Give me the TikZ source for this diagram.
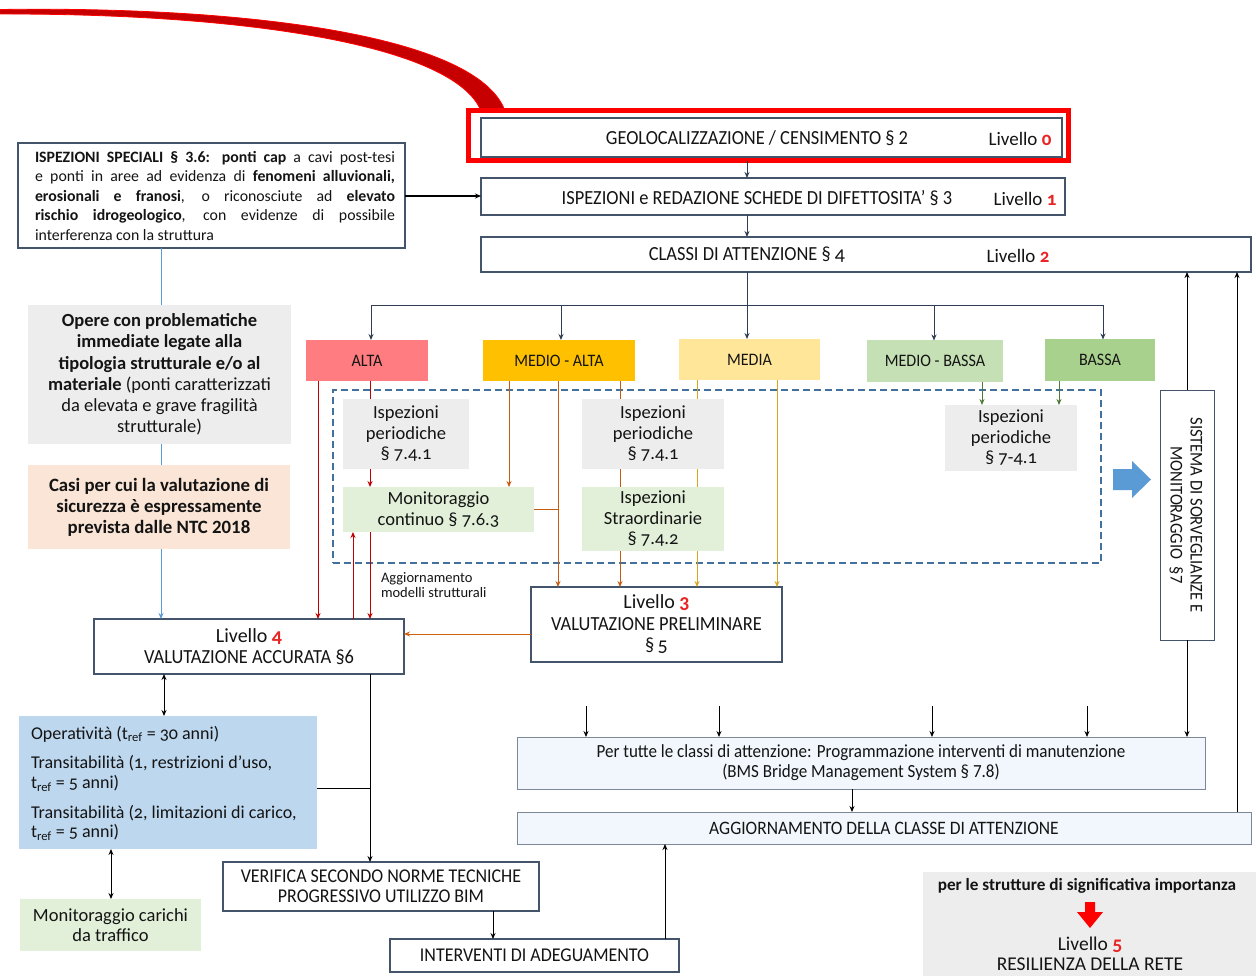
\documentclass[tikz,border=0pt]{standalone}
\usepackage{fontspec}
\setmainfont{Carlito}
\newfontfamily\cond[FakeStretch=0.92]{Carlito}
\newfontfamily\osf[Numbers=OldStyle]{Carlito}
\usetikzlibrary{arrows.meta}

\definecolor{bordc}{HTML}{44546A}
\definecolor{txt}{HTML}{141414}
\definecolor{altac}{HTML}{FF7C80}
\definecolor{malc}{HTML}{FFC000}
\definecolor{medc}{HTML}{FFE699}
\definecolor{mbc}{HTML}{C5E0B4}
\definecolor{bc}{HTML}{A9D18E}
\definecolor{grayf}{HTML}{EDEDED}
\definecolor{greenf}{HTML}{E2F0D9}
\definecolor{peachf}{HTML}{FBE5D6}
\definecolor{bluef}{HTML}{BDD7EE}
\definecolor{lbluef}{HTML}{F1F7FC}
\definecolor{dred}{HTML}{C00000}
\definecolor{brn}{HTML}{C55A11}
\definecolor{gld}{HTML}{D9A520}
\definecolor{dgrn}{HTML}{4E7A35}
\definecolor{slate}{HTML}{2F3E52}
\definecolor{dashc}{HTML}{41719C}
\definecolor{bluear}{HTML}{5B9BD5}
\definecolor{redc}{HTML}{FF0000}
\definecolor{lvl}{HTML}{E82424}

\newcommand{\lv}[1]{{\color{lvl}\bfseries\osf #1}}
\newcommand{\tref}{t\textsubscript{ref}}

\tikzset{
  every node/.style={inner sep=0pt, outer sep=0pt, text=txt},
  bx/.style={draw=bordc, line width=1.4pt, fill=white},
  lbx/.style={draw=bordc!70, line width=0.8pt, fill=lbluef},
  flat/.style={draw=none, fill=#1},
  cnd/.style={font=\cond\fontsize{20}{22}\selectfont},
  clab/.style={font=\cond\fontsize{17.5}{19}\selectfont},
  lvlab/.style={font=\fontsize{19}{21}\selectfont},
  small/.style={font=\osf\fontsize{18.5}{20.5}\selectfont, align=center},
  tip/.style={-{Stealth[length=6pt,width=5pt]}},
  tline/.style={draw=slate, line width=0.9pt},
  tarr/.style={tline, tip},
  rl/.style={draw=dred, line width=0.9pt},
  rarr/.style={rl, tip},
  bl2/.style={draw=brn, line width=0.9pt},
  barr/.style={bl2, tip},
  gl/.style={draw=gld, line width=0.9pt},
  garr/.style={gl, tip},
  grarr/.style={draw=dgrn, line width=0.9pt, tip},
  oarr/.style={draw=brn!80!orange, line width=0.9pt, tip},
  bline/.style={draw=bluear, line width=0.9pt},
  kl/.style={draw=black, line width=0.9pt},
  karr/.style={kl, tip},
  darr/.style={kl, {Stealth[length=6pt,width=5pt]}-{Stealth[length=6pt,width=5pt]}},
}

\begin{document}
\begin{tikzpicture}[x=1pt, y=-1pt]
\useasboundingbox[fill=white] (0,0) rectangle (1256,976);

% guide coordinates for connector columns and rows
\foreach \v in {111,161,164,318,353,370,493,509,558,586,620,665,697,719,747,777,852,932,982,1059,1087,1237}
  \coordinate (k\v) at (\v,0);
\foreach \v in {196,634,788}
  \coordinate (r\v) at (0,\v);

% red pointer from the upper left
\filldraw[fill=dred!90!red, draw=redc, line width=0.8pt]
  (0,9.5) .. controls (250,6) and (478,36) .. (505,111)
  -- (481,111) .. controls (455,46) and (250,13.5) .. (0,14) -- cycle;

% main chain
\node[bx, minimum width=581pt, minimum height=39pt] (geo) at (771.5,137.5) {};
\node[draw=redc, line width=5pt, minimum width=600pt, minimum height=50pt] (geoframe) at (768,136) {};
\node[cnd] at (757,138) {GEOLOCALIZZAZIONE / CENSIMENTO § 2};
\node[lvlab] at (1020,138.5) {Livello \lv{0}};

\node[bx, minimum width=584pt, minimum height=37pt] (isp) at (773,196.5) {};
\node[cnd] at (757,198) {ISPEZIONI e REDAZIONE SCHEDE DI DIFETTOSITA’ § 3};
\node[lvlab] at (1025,198.5) {Livello \lv{1}};

\node[bx, minimum width=770pt, minimum height=35pt] (classi) at (866,254.5) {};
\node[cnd] at (747,255) {CLASSI DI ATTENZIONE § \osf 4};
\node[lvlab] at (1018,256) {Livello \lv{2}};

% special inspections
\node[bx, minimum width=387pt, minimum height=105pt] (spec) at (211.5,195.5) {};
\node[font=\fontsize{15.8}{19.5}\selectfont, align=left] at (215,196) {%
\makebox[360pt][s]{\textbf{ISPEZIONI SPECIALI § 3.6: ponti cap} a cavi post-tesi}\\
\makebox[360pt][s]{e ponti in aree ad evidenza di \textbf{fenomeni alluvionali,}}\\
\makebox[360pt][s]{\textbf{erosionali e franosi}, o riconosciute ad \textbf{elevato}}\\
\makebox[360pt][s]{\textbf{rischio idrogeologico}, con evidenze di possibile}\\
\makebox[360pt][l]{interferenza con la struttura}};

\node[flat=grayf, minimum width=263pt, minimum height=139pt, font=\fontsize{18.5}{21.2}\selectfont, align=center] (opere) at (159.5,374.5) {%
\textbf{Opere con problematiche}\\ \textbf{immediate legate alla}\\ \textbf{tipologia strutturale e/o al}\\
\textbf{materiale} (ponti caratterizzati\\ da elevata e grave fragilità\\ strutturale)};

\node[flat=peachf, minimum width=262pt, minimum height=84pt, font=\fontsize{18.8}{21}\selectfont\bfseries, align=center] (casi) at (159,507) {%
Casi per cui la valutazione di\\ sicurezza è espressamente\\ prevista dalle NTC 2018};

% attention classes
\node[flat=altac, minimum width=122pt, minimum height=41pt, clab] (alta) at (367,360.5) {ALTA};
\node[flat=malc, minimum width=152pt, minimum height=41pt, clab] (medalta) at (559,360.5) {MEDIO - ALTA};
\node[flat=medc, minimum width=141pt, minimum height=41pt, clab] (media) at (749.5,359.5) {MEDIA};
\node[flat=mbc, minimum width=136pt, minimum height=41pt, clab] (medbassa) at (935,361) {MEDIO - BASSA};
\node[flat=bc, minimum width=110pt, minimum height=41pt, clab] (bassa) at (1100,360) {BASSA};

% surveillance area
\node[draw=dashc, dashed, dash pattern=on 7pt off 4pt, line width=1.3pt, minimum width=768pt, minimum height=173pt] (zone) at (717,476.5) {};
\node[flat=grayf, minimum width=126pt, minimum height=70pt, small] (ip1) at (406,434) {Ispezioni\\ periodiche\\ § 7.4.1};
\node[flat=greenf, minimum width=191pt, minimum height=45pt, small] (mon) at (438.5,509.5) {Monitoraggio\\ continuo § 7.6.3};
\node[flat=grayf, minimum width=142pt, minimum height=70pt, small] (ip2) at (653,434) {Ispezioni\\ periodiche\\ § 7.4.1};
\node[flat=greenf, minimum width=142pt, minimum height=64pt, small] (str) at (653,519) {Ispezioni\\ Straordinarie\\ § 7.4.2};
\node[flat=grayf, minimum width=132pt, minimum height=66pt, small] (ip3) at (1011,438) {Ispezioni\\ periodiche\\ § 7-4.1};

\fill[bluear] (1113,469) -- (1132,469) -- (1132,461) -- (1151,479.5) -- (1132,498) -- (1132,490) -- (1113,490) -- cycle;

\node[draw=bordc, line width=0.8pt, fill=white, minimum width=54pt, minimum height=250pt] (sist) at (1187,515) {};
\node[rotate=-90, align=center, font=\cond\fontsize{18}{20}\selectfont] at (1186,515) {SISTEMA DI SORVEGLIANZE E\\ MONITORAGGIO \ §7};

% evaluation levels
\node[bx, minimum width=251pt, minimum height=75pt, align=center, font=\cond\fontsize{20}{21.5}\selectfont] (liv3) at (656.5,624.5) {%
{\fontsize{20}{21.5}\selectfont\addfontfeatures{FakeStretch=1.0}Livello \lv{3}}\\ VALUTAZIONE PRELIMINARE\\ §\,\osf 5};
\node[bx, minimum width=310pt, minimum height=55pt, align=center, font=\cond\fontsize{20}{21.5}\selectfont] (liv4) at (249,646.5) {%
{\fontsize{20}{21.5}\selectfont\addfontfeatures{FakeStretch=1.0}Livello \lv{4}}\\ VALUTAZIONE ACCURATA §6};

\node[align=left, font=\fontsize{14.5}{15}\selectfont, anchor=north west] (aggl) at (381,573) {Aggiornamento\\ modelli strutturali};

\node[flat=bluef, minimum width=298pt, minimum height=133pt] (blue) at (168,782.5) {};
\node[anchor=west, font=\osf\fontsize{18}{19.5}\selectfont, align=left] at (31,734) {Operatività (\tref{} = 30 anni)};
\node[anchor=west, font=\osf\fontsize{18}{19.5}\selectfont, align=left] at (31,773.5) {Transitabilità (1, restrizioni d’uso,\\ \tref{} = 5 anni)};
\node[anchor=west, font=\osf\fontsize{18}{19.5}\selectfont, align=left] at (31,823) {Transitabilità (2, limitazioni di carico,\\ \tref{} = 5 anni)};

\node[flat=greenf, minimum width=181pt, minimum height=52pt, align=center, font=\fontsize{18.5}{20}\selectfont] (moncar) at (110.5,925) {Monitoraggio carichi\\ da traffico};

\node[bx, minimum width=316pt, minimum height=49pt, align=center, font=\cond\fontsize{19.5}{20}\selectfont] (verif) at (381,886.5) {VERIFICA SECONDO NORME TECNICHE\\ PROGRESSIVO UTILIZZO BIM};
\node[bx, minimum width=289pt, minimum height=33pt, font=\cond\fontsize{19.5}{20}\selectfont] (interv) at (534.5,955.5) {INTERVENTI DI ADEGUAMENTO};

\node[lbx, minimum width=688pt, minimum height=52pt, align=center, font=\cond\fontsize{18.5}{20}\selectfont] (pertutte) at (861,763) {Per tutte le classi di attenzione: Programmazione interventi di manutenzione\\ (BMS Bridge Management System § 7.8)};
\node[lbx, minimum width=734pt, minimum height=32pt, font=\cond\fontsize{19}{20}\selectfont] (aggior) at (884,828) {AGGIORNAMENTO DELLA CLASSE DI ATTENZIONE};

% network resilience
\node[flat=grayf, minimum width=333pt, minimum height=104pt] (liv5) at (1089.5,924) {};
\node[font=\fontsize{17.2}{19}\selectfont\bfseries] at (1087,886) {per le strutture di significativa importanza};
\fill[redc] (1085,902) -- (1095,902) -- (1095,912) -- (1103,912) -- (1090,928) -- (1077,912) -- (1085,912) -- cycle;
\node[align=center, font=\fontsize{19.5}{20}\selectfont] at (1090,954) {Livello \lv{5}\\ RESILIENZA DELLA RETE};

% connectors: main chain
\draw[tarr] (geoframe.south -| k747) -- (isp.north -| k747);
\draw[tarr] (isp.south -| k747) -- (classi.north -| k747);
\draw[kl, line width=1.2pt, tip] (spec.east |- r196) -- (isp.west |- r196);

% left column
\draw[bline] (spec.south -| k161) -- (opere.north -| k161);
\draw[bline] (opere.south -| k161) -- (casi.north -| k161);
\draw[bline, tip] (casi.south -| k161) -- (liv4.north -| k161);

% class tree
\coordinate (hub) at (747,305);
\draw[tline] (classi.south -| hub) -- (hub);
\draw[tline] (371,305) -- (1103,305);
\foreach \n/\x in {alta/371, medalta/561, media/747, medbassa/934, bassa/1103}
  \draw[tarr] (\x,305) -- (\n.north -| \x,0);

% ALTA
\draw[rarr] (alta.south -| k318) -- (liv4.north -| k318);
\draw[rl] (alta.south -| k370) -- (ip1.north -| k370);
\draw[rarr] (ip1.south -| k370) -- (mon.north -| k370);
\draw[rarr] (mon.south -| k370) -- (liv4.north -| k370);
\draw[rarr] (liv4.north -| k353) -- (mon.south -| k353);

% MEDIO - ALTA
\draw[barr] (medalta.south -| k509) -- (mon.north -| k509);
\draw[barr] (medalta.south -| k558) -- (liv3.north -| k558);
\draw[bl2] (mon.east) -- (mon.east -| k558);
\draw[bl2] (medalta.south -| k620) -- (ip2.north -| k620);
\draw[bl2] (ip2.south -| k620) -- (str.north -| k620);
\draw[barr] (str.south -| k620) -- (liv3.north -| k620);

% MEDIA
\draw[gl] (media.south -| k697) -- (ip2.north -| k697);
\draw[gl] (ip2.south -| k697) -- (str.north -| k697);
\draw[garr] (str.south -| k697) -- (liv3.north -| k697);
\draw[garr] (media.south -| k777) -- (liv3.north -| k777);

% MEDIO - BASSA and BASSA
\draw[grarr] (medbassa.south -| k982) -- (ip3.north -| k982);
\draw[grarr] (bassa.south -| k1059) -- (ip3.north -| k1059);

% evaluations
\draw[oarr] (liv3.west |- r634) -- (liv4.east |- r634);
\draw[darr] (liv4.south -| k164) -- (blue.north -| k164);
\draw[karr] (liv4.south -| k370) -- (verif.north -| k370);
\draw[kl] (blue.east |- r788) -- (k370 |- r788);
\draw[darr] (blue.south -| k111) -- (moncar.north -| k111);
\draw[karr] (verif.south -| k493) -- (interv.north -| k493);
\draw[karr] (interv.north -| k665) -- (aggior.south -| k665);
\draw[karr] (pertutte.south -| k852) -- (aggior.north -| k852);
\foreach \x in {586,719,932,1087} {
  \coordinate (f\x) at (\x,706);
  \draw[karr] (f\x) -- (pertutte.north -| f\x);
}
\draw[karr] (sist.north) -- (classi.south -| sist.north);
\draw[karr] (sist.south) -- (pertutte.north -| sist.south);
\draw[karr] (aggior.north -| k1237) -- (classi.south -| k1237);
\end{tikzpicture}
\end{document}
